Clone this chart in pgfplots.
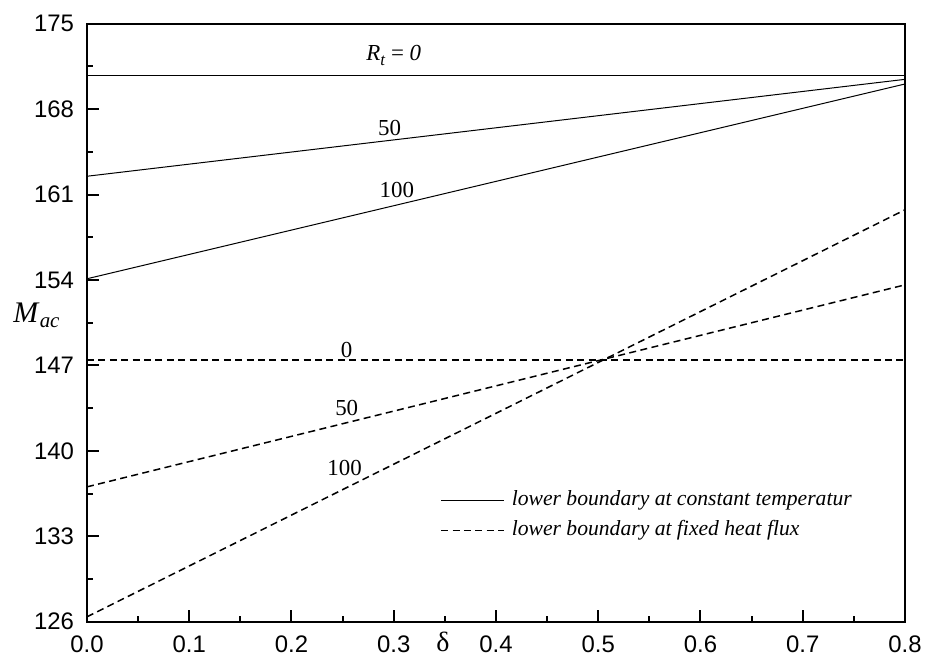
\documentclass[border=0pt]{standalone}
\usepackage{fontspec}
\setmainfont{Liberation Serif}
\setsansfont{Liberation Sans}
\usepackage{pgfplots}
\pgfplotsset{compat=1.18}
\begin{document}
\begin{tikzpicture}
\path[use as bounding box] (-43.5bp,-17.65bp) rectangle (419bp,310.85bp);
\begin{axis}[
  at={(0,0)}, anchor=south west,
  scale only axis, width=409bp, height=299bp,
  xmin=0, xmax=0.8, ymin=126, ymax=175,
  xtick={0,0.1,0.2,0.3,0.4,0.5,0.6,0.7,0.8},
  xticklabels={0.0,0.1,0.2,0.3,0.4,0.5,0.6,0.7,0.8},
  minor xtick={0.05,0.15,0.25,0.35,0.45,0.55,0.65,0.75},
  ytick={126,133,140,147,154,161,168,175},
  yticklabels={126,133,140,147,154,161,168,175},
  minor ytick={129.5,136.5,143.5,150.5,157.5,164.5,171.5},
  tick align=inside, tick pos=left,
  major tick length=5.8bp, minor tick length=3bp,
  axis line style={line width=1bp},
  every tick/.style={line width=1bp, black},
  ticklabel style={font=\sffamily\fontsize{12}{13}\selectfont},
  xticklabel style={yshift=-3.5bp},
  yticklabel style={xshift=-3bp},
  clip=false,
  legend image code/.code={\draw[#1] (0bp,0bp) -- (31.5bp,0bp); \path (35bp,0bp);},
  legend style={draw=none, fill=none, at={(axis cs:0.3452,136.8)}, anchor=north west,
    font=\itshape\fontsize{10.85}{12}\selectfont,
    nodes={inner sep=0pt, text height=7.5bp, text depth=2.5bp},
    row sep=5.0bp, inner sep=0pt},
  legend cell align=left,
]
\addplot[black, line width=0.5bp] coordinates {(0,170.77) (0.8,170.77)};
\addlegendentry{lower boundary at constant temperatur}
\addplot[black, line width=0.75bp, dash pattern=on 3.5bp off 2.2bp] coordinates {(0,147.43) (0.8,147.43)};
\addlegendentry{lower boundary at fixed heat flux}
\addplot[black, line width=0.5bp, forget plot] coordinates {(0,162.5) (0.8,170.44)};
\addplot[black, line width=0.5bp, forget plot] coordinates {(0,154.1) (0.8,170.06)};
\addplot[black, line width=0.75bp, dash pattern=on 3.5bp off 2.2bp, forget plot] coordinates {(0,137.05) (0.8,153.6)};
\addplot[black, line width=0.75bp, dash pattern=on 3.5bp off 2.2bp, forget plot] coordinates {(0,126.4) (0.8,159.75)};
\node[font=\fontsize{11.5}{13}\selectfont] at (axis cs:0.300,172.4) {\textit{R}\raisebox{-0.4ex}{\fontsize{8.5}{9}\selectfont\textit{t}} = \textit{0}};
\node[font=\fontsize{11.5}{13}\selectfont] at (axis cs:0.296,166.45) {50};
\node[font=\fontsize{11.5}{13}\selectfont] at (axis cs:0.303,161.35) {100};
\node[font=\fontsize{11.5}{13}\selectfont] at (axis cs:0.254,148.24) {0};
\node[font=\fontsize{11.5}{13}\selectfont] at (axis cs:0.254,143.5) {50};
\node[font=\fontsize{11.5}{13}\selectfont] at (axis cs:0.252,138.6) {100};
\node[font=\fontsize{14}{16}\selectfont, anchor=north, inner sep=0pt] at ([yshift=-5.2bp]axis cs:0.348,126) {δ};
\node[font=\fontsize{15}{17}\selectfont, inner sep=0pt] at ([xshift=-25bp]axis cs:0,151.1) {\textit{M}\textsubscript{\textit{ac}}};
\end{axis}
\end{tikzpicture}
\end{document}
